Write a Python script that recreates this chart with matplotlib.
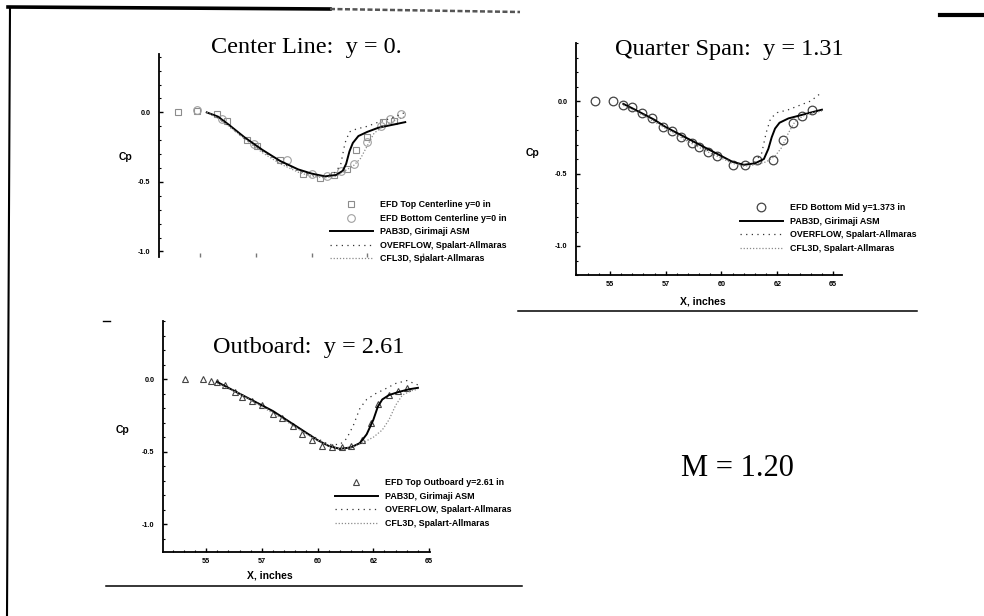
import matplotlib
matplotlib.use("Agg")
import matplotlib.pyplot as plt
from matplotlib.lines import Line2D
from matplotlib.ticker import MultipleLocator, FixedLocator, FixedFormatter

W, H = 984, 616

# ---------------- data ----------------
x_ticks = [55, 57.5, 60, 62.5, 65]
x_tick_labels = ["55", "57", "60", "62", "65"]
y_ticks = [0.0, -0.5, -1.0]
y_tick_labels = ["0.0", "-0.5", "-1.0"]

# Center line y = 0
cl_top_x = [54.0, 54.85, 55.75, 56.2, 57.1, 57.55, 58.6, 59.6, 60.4, 61.0, 61.6, 62.0, 62.5, 63.2, 63.7]
cl_top_cp = [0.0, 0.01, -0.01, -0.06, -0.20, -0.24, -0.34, -0.44, -0.47, -0.45, -0.41, -0.27, -0.18, -0.07, -0.06]
cl_bot_x = [54.85, 56.0, 57.4, 58.9, 60.0, 60.7, 61.3, 61.9, 62.5, 63.1, 63.5, 64.0]
cl_bot_cp = [0.02, -0.05, -0.23, -0.34, -0.44, -0.46, -0.42, -0.37, -0.21, -0.10, -0.05, -0.01]
cl_pab_x = [55.3, 55.8, 56.3, 57.0, 57.8, 58.6, 59.4, 60.0, 60.6, 61.1, 61.4, 61.55, 61.7, 61.85, 62.1, 62.5, 63.0, 63.6, 64.2]
cl_pab_cp = [0.0, -0.03, -0.09, -0.18, -0.27, -0.35, -0.41, -0.44, -0.46, -0.45, -0.42, -0.37, -0.28, -0.22, -0.17, -0.14, -0.11, -0.09, -0.07]
cl_ovf_x = [55.3, 55.8, 56.3, 57.0, 57.8, 58.6, 59.4, 60.0, 60.6, 61.0, 61.3, 61.5, 61.7, 62.0, 62.5, 63.0, 63.6, 64.2]
cl_ovf_cp = [0.0, -0.04, -0.10, -0.19, -0.28, -0.36, -0.42, -0.45, -0.46, -0.44, -0.38, -0.22, -0.14, -0.12, -0.10, -0.07, -0.04, 0.0]
cl_cfl_x = [55.3, 55.8, 56.3, 57.0, 57.8, 58.6, 59.4, 60.0, 60.6, 61.1, 61.5, 61.9, 62.2, 62.5, 62.8, 63.2, 63.7, 64.2]
cl_cfl_cp = [0.0, -0.04, -0.10, -0.19, -0.29, -0.37, -0.43, -0.46, -0.47, -0.46, -0.42, -0.38, -0.33, -0.24, -0.15, -0.10, -0.06, -0.03]

# Quarter span y = 1.31
qs_efd_x = [54.33, 55.13, 55.6, 56.0, 56.45, 56.9, 57.4, 57.8, 58.2, 58.7, 59.0, 59.4, 59.8, 60.5, 61.05, 61.6, 62.3, 62.76, 63.2, 63.6, 64.05]
qs_efd_cp = [0.0, 0.0, -0.03, -0.04, -0.08, -0.12, -0.18, -0.21, -0.25, -0.29, -0.32, -0.35, -0.38, -0.44, -0.44, -0.41, -0.41, -0.27, -0.15, -0.10, -0.06]
qs_pab_x = [55.6, 56.0, 56.5, 57.0, 57.5, 58.0, 58.5, 59.0, 59.5, 60.0, 60.5, 61.0, 61.5, 61.9, 62.1, 62.25, 62.4, 62.6, 63.0, 63.5, 64.0, 64.5]
qs_pab_cp = [-0.02, -0.05, -0.09, -0.13, -0.18, -0.22, -0.26, -0.30, -0.34, -0.38, -0.42, -0.44, -0.43, -0.40, -0.33, -0.25, -0.19, -0.15, -0.12, -0.10, -0.08, -0.06]
qs_ovf_x = [55.6, 56.5, 57.5, 58.5, 59.5, 60.5, 61.0, 61.5, 61.8, 62.0, 62.2, 62.5, 63.0, 63.5, 64.0, 64.5]
qs_ovf_cp = [-0.02, -0.09, -0.18, -0.27, -0.35, -0.42, -0.44, -0.42, -0.36, -0.22, -0.12, -0.08, -0.06, -0.03, 0.0, 0.06]
qs_cfl_x = [55.6, 56.5, 57.5, 58.5, 59.5, 60.5, 61.0, 61.5, 62.0, 62.4, 62.7, 63.0, 63.3, 63.7, 64.1, 64.5]
qs_cfl_cp = [-0.03, -0.10, -0.19, -0.28, -0.36, -0.43, -0.45, -0.44, -0.42, -0.38, -0.32, -0.22, -0.14, -0.10, -0.08, -0.07]

# Outboard y = 2.61
ob_efd_x = [54.06, 54.87, 55.2, 55.5, 55.85, 56.3, 56.6, 57.06, 57.5, 58.0, 58.4, 58.9, 59.3, 59.75, 60.2, 60.65, 61.1, 61.5, 62.0, 62.4, 62.7, 63.2, 63.6, 64.0]
ob_efd_cp = [0.0, 0.0, -0.01, -0.02, -0.04, -0.09, -0.12, -0.15, -0.18, -0.24, -0.27, -0.32, -0.38, -0.42, -0.46, -0.47, -0.47, -0.46, -0.42, -0.30, -0.17, -0.11, -0.08, -0.06]
ob_pab_x = [55.5, 56.0, 56.5, 57.0, 57.5, 58.0, 58.5, 59.0, 59.5, 60.0, 60.5, 61.0, 61.5, 61.9, 62.2, 62.5, 62.7, 62.9, 63.2, 63.6, 64.1, 64.5]
ob_pab_cp = [-0.02, -0.06, -0.10, -0.14, -0.18, -0.22, -0.27, -0.32, -0.37, -0.42, -0.46, -0.48, -0.47, -0.44, -0.38, -0.28, -0.19, -0.14, -0.11, -0.09, -0.07, -0.06]
ob_ovf_x = [55.5, 56.5, 57.5, 58.5, 59.5, 60.5, 61.0, 61.3, 61.6, 61.9, 62.2, 62.6, 63.0, 63.5, 64.0, 64.5]
ob_ovf_cp = [-0.02, -0.10, -0.18, -0.27, -0.37, -0.45, -0.45, -0.41, -0.32, -0.20, -0.14, -0.10, -0.07, -0.03, -0.01, -0.04]
ob_cfl_x = [55.5, 56.5, 57.5, 58.5, 59.5, 60.5, 61.0, 61.5, 62.0, 62.5, 62.9, 63.2, 63.5, 63.8, 64.2, 64.5]
ob_cfl_cp = [-0.03, -0.10, -0.19, -0.28, -0.38, -0.46, -0.48, -0.47, -0.44, -0.40, -0.35, -0.28, -0.18, -0.11, -0.08, -0.07]

# ---------------- styles ----------------
SANS = "Liberation Sans"
SERIF = "Liberation Serif"
tick_font = dict(family=SANS, weight="bold", size=5.2)
leg_prop = dict(family=SANS, weight="bold", size=6.4)

PAB_STYLE = dict(color="black", lw=1.4, ls="-")
OVF_STYLE = dict(color="#333333", lw=0.9, ls=(0, (1, 3.5)))
CFL_STYLE = dict(color="#8a8a8a", lw=0.9, ls=(0, (1, 1.5)))

fig = plt.figure(figsize=(W / 100, H / 100), dpi=100)
fig.patch.set_facecolor("white")


def px_axes(l, t, r, b):
    return fig.add_axes([l / W, 1 - b / H, (r - l) / W, (b - t) / H])


def style_axes(ax, xlim, ylim, show_bottom=True):
    ax.set_xlim(*xlim)
    ax.set_ylim(*ylim)
    ax.set_facecolor("none")
    for s in ("top", "right"):
        ax.spines[s].set_visible(False)
    ax.spines["left"].set_linewidth(1.3)
    ax.spines["bottom"].set_linewidth(1.3)
    ax.yaxis.set_major_locator(FixedLocator(y_ticks))
    ax.yaxis.set_major_formatter(FixedFormatter(y_tick_labels))
    ax.yaxis.set_minor_locator(MultipleLocator(0.1))
    ax.xaxis.set_major_locator(FixedLocator(x_ticks))
    ax.xaxis.set_minor_locator(MultipleLocator(0.5))
    ax.tick_params(axis="both", which="major", direction="in", length=3, width=1.0, pad=6)
    ax.tick_params(axis="both", which="minor", direction="in", length=1.6, width=0.8)
    for lab in ax.get_yticklabels():
        lab.set(**tick_font)
    if show_bottom:
        ax.xaxis.set_major_formatter(FixedFormatter(x_tick_labels))
        ax.tick_params(axis="x", which="major", pad=4)
        for lab in ax.get_xticklabels():
            lab.set(**tick_font)
    else:
        ax.spines["bottom"].set_visible(False)
        ax.tick_params(axis="x", which="both", labelbottom=False, color="#777777")
        ax.tick_params(axis="x", which="minor", length=0)


def add_legend(handles, labels, x0, y0):
    fig.legend(handles, labels, loc="upper left",
               bbox_to_anchor=(x0 / W, 1 - y0 / H), bbox_transform=fig.transFigure,
               frameon=False, prop=leg_prop, handlelength=4.8, handletextpad=0.8,
               labelspacing=0.52, borderpad=0, borderaxespad=0)


# ---------------- Center line ----------------
ax1 = px_axes(159, 54, 432, 257)
style_axes(ax1, (53.16, 65.4), (-1.04, 0.42), show_bottom=False)
h_top, = ax1.plot(cl_top_x, cl_top_cp, ls="none", marker="s", ms=5, mfc="none", mec="#8c8c8c", mew=0.8)
h_bot, = ax1.plot(cl_bot_x, cl_bot_cp, ls="none", marker="o", ms=5.5, mfc="none", mec="#a0a0a0", mew=0.8)
h_pab1, = ax1.plot(cl_pab_x, cl_pab_cp, **PAB_STYLE)
h_ovf1, = ax1.plot(cl_ovf_x, cl_ovf_cp, **OVF_STYLE)
h_cfl1, = ax1.plot(cl_cfl_x, cl_cfl_cp, **CFL_STYLE)
fig.text(125 / W, 1 - 157 / H, "Cp", ha="center", va="center", family=SANS, weight="bold", size=7.5)
fig.text(306 / W, 1 - 47 / H, "Center Line:  y = 0.", ha="center", va="center", family=SERIF, size=17.5)
add_legend([h_top, h_bot, h_pab1, h_ovf1, h_cfl1],
           ["EFD Top Centerline y=0 in", "EFD Bottom Centerline y=0 in",
            "PAB3D, Girimaji ASM", "OVERFLOW, Spalart-Allmaras", "CFL3D, Spalart-Allmaras"],
           330, 200)

# ---------------- Quarter span ----------------
ax2 = px_axes(576, 43, 842, 275)
style_axes(ax2, (53.48, 65.4), (-1.2, 0.40))
h_q, = ax2.plot(qs_efd_x, qs_efd_cp, ls="none", marker="o", ms=6.2, mfc="none", mec="#444444", mew=0.9)
h_pab2, = ax2.plot(qs_pab_x, qs_pab_cp, **PAB_STYLE)
h_ovf2, = ax2.plot(qs_ovf_x, qs_ovf_cp, **OVF_STYLE)
h_cfl2, = ax2.plot(qs_cfl_x, qs_cfl_cp, **CFL_STYLE)
fig.text(533 / W, 1 - 153 / H, "Cp", ha="center", va="center", family=SANS, weight="bold", size=7.5)
fig.text(703 / W, 1 - 302 / H, "X, inches", ha="center", va="center", family=SANS, weight="bold", size=7.5)
fig.text(729 / W, 1 - 50 / H, "Quarter Span:  y = 1.31", ha="center", va="center", family=SERIF, size=17.5)
add_legend([h_q, h_pab2, h_ovf2, h_cfl2],
           ["EFD Bottom Mid y=1.373 in", "PAB3D, Girimaji ASM",
            "OVERFLOW, Spalart-Allmaras", "CFL3D, Spalart-Allmaras"],
           740, 203)

# ---------------- Outboard ----------------
ax3 = px_axes(163, 321, 430, 552)
style_axes(ax3, (53.07, 65.04), (-1.19, 0.40))
h_o, = ax3.plot(ob_efd_x, ob_efd_cp, ls="none", marker="^", ms=5, mfc="none", mec="#444444", mew=0.8)
h_pab3, = ax3.plot(ob_pab_x, ob_pab_cp, **PAB_STYLE)
h_ovf3, = ax3.plot(ob_ovf_x, ob_ovf_cp, **OVF_STYLE)
h_cfl3, = ax3.plot(ob_cfl_x, ob_cfl_cp, **CFL_STYLE)
fig.text(122 / W, 1 - 430 / H, "Cp", ha="center", va="center", family=SANS, weight="bold", size=7.5)
fig.text(270 / W, 1 - 575 / H, "X, inches", ha="center", va="center", family=SANS, weight="bold", size=7.5)
fig.text(309 / W, 1 - 347 / H, "Outboard:  y = 2.61", ha="center", va="center", family=SERIF, size=17.5)
add_legend([h_o, h_pab3, h_ovf3, h_cfl3],
           ["EFD Top Outboard y=2.61 in", "PAB3D, Girimaji ASM",
            "OVERFLOW, Spalart-Allmaras", "CFL3D, Spalart-Allmaras"],
           335, 478)

# Mach number annotation
fig.text(737 / W, 1 - 468 / H, "M = 1.20", ha="center", va="center", family=SERIF, size=22)


# ---------------- page decorations ----------------
def px_line(x0, y0, x1, y1, **kw):
    fig.add_artist(Line2D([x0 / W, x1 / W], [1 - y0 / H, 1 - y1 / H],
                          transform=fig.transFigure, **kw))


px_line(8, 7, 330, 9, color="black", lw=2.6)
px_line(330, 9, 520, 12, color="#555555", lw=1.8, ls=(0, (2, 1)))
px_line(940, 15, 984, 15, color="black", lw=3)
px_line(10, 7, 7, 616, color="black", lw=1.5)
px_line(518, 311, 917, 311, color="black", lw=1.1)
px_line(106, 586, 522, 586, color="black", lw=1.1)
px_line(103, 321, 110, 321, color="black", lw=1.0)

fig.savefig("out.png", dpi=100, facecolor="white")
